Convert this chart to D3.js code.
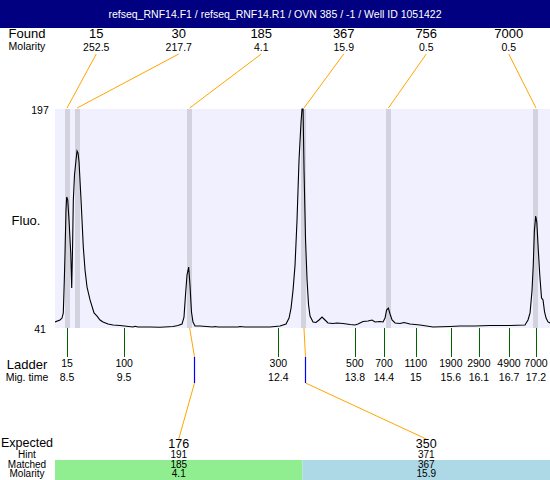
<!DOCTYPE html>
<html><head><meta charset="utf-8">
<script src="https://cdn.jsdelivr.net/npm/d3@7/dist/d3.min.js"></script>
<style>body{margin:0;background:#fff}svg{display:block;font-family:"Liberation Sans",Arial,sans-serif}</style>
</head><body><div id="chart"></div>
<script>
const title = "refseq_RNF14.F1 / refseq_RNF14.R1 / OVN 385 / -1 / Well ID 1051422";
const ladderSizes = [15, 100, 300, 500, 700, 1100, 1900, 2900, 4900, 7000];
const ladderTimes = [8.50, 9.56, 12.42, 13.84, 14.38, 14.97, 15.62, 16.14, 16.70, 17.20];
const migLabels = ["8.5", "9.5", "12.4", "13.8", "14.4", "15", "15.6", "16.1", "16.7", "17.2"];
const foundSizes = [15, 30, 185, 367, 756, 7000];
const foundMolarity = ["252.5", "217.7", "4.1", "15.9", "0.5", "0.5"];
const expectedSizes = [176, 350];
const hintSizes = [191, 371];
const matchedSizes = [185, 367];
const matchedMolarity = ["4.1", "15.9"];
const matchColors = ["#90ee90", "#add8e6"];
const yTicks = [41, 197];
const timeDomain = [8.277, 17.46];
const traceTimes = [8.277,8.37,8.407,8.431,8.45,8.463,8.481,8.494,8.513,8.537,8.569,8.587,8.602,8.617,8.639,8.667,8.686,8.705,8.723,8.76,8.802,8.834,8.871,8.927,9.001,9.057,9.112,9.168,9.261,9.353,9.483,9.724,9.761,9.817,10.04,10.225,10.466,10.559,10.633,10.67,10.698,10.726,10.757,10.781,10.809,10.837,10.874,10.967,11.208,11.245,11.301,11.672,11.709,11.802,12.266,12.452,12.563,12.619,12.656,12.693,12.73,12.767,12.804,12.841,12.86,12.879,12.897,12.925,12.953,12.981,13.008,13.064,13.119,13.175,13.231,13.286,13.342,13.435,13.509,13.62,13.75,13.843,13.898,13.991,14.084,14.158,14.214,14.307,14.363,14.4,14.428,14.461,14.493,14.53,14.586,14.678,14.752,14.864,15.049,15.29,15.605,15.79,16.069,16.347,16.718,16.996,17.052,17.09,17.127,17.15,17.17,17.195,17.215,17.243,17.27,17.303,17.331,17.359,17.387,17.424,17.46];
const traceFluo = [45.3,46.7,48.1,51.7,75.2,94.4,125,134.3,132.2,117.9,94.4,69.5,96.6,132.2,150,160.7,167.1,165.6,159.2,132.2,98.7,82.3,70.2,61,51.7,49.5,46.7,45.3,43.8,43.1,42.8,41.7,42.2,41.7,41.7,41.5,42.1,42.8,43.8,48.8,64.5,78.7,84.4,71.6,52.4,45.3,42.4,42.4,41.7,42.1,41.7,41.7,42.1,41.7,41.7,42.4,43.8,48.1,55.2,68,85.8,117.9,160.7,187.7,197,197,153.6,103.7,75.2,57.4,49.5,45.3,44.9,46.7,48.8,46.7,44.6,44.2,44.6,44.2,43.5,43.1,43.8,45.6,46,46.7,45.3,45.6,45.3,48.1,53.8,55.2,51,46.7,44.6,44.2,44.9,43.8,43.1,41.7,42.1,42.4,42.4,42.8,42.8,43.1,46.7,51.7,68,86,110,120.8,116.5,96.6,78.7,62.4,61,52.4,48.1,45.3,44.6];

const W = 550, H = 480;
const plot = {left: 55, right: 550, top: 109, bottom: 328};
const svg = d3.select("#chart").append("svg").attr("width", W).attr("height", H);

const x = d3.scaleLinear().domain(timeDomain).range([plot.left, plot.right]);
const y = d3.scaleLinear().domain([yTicks[0], yTicks[1]]).range([plot.bottom, plot.top]);
const sizeToTime = d3.scaleLinear().domain(ladderSizes).range(ladderTimes);
const foundPart = d3.scaleBand().domain(d3.range(foundSizes.length)).range([plot.left, plot.right]);
const expPart = d3.scaleBand().domain(d3.range(expectedSizes.length)).range([plot.left, plot.right]);
const fx = i => foundPart(i) + foundPart.bandwidth() / 2;
const ex = i => expPart(i) + expPart.bandwidth() / 2;
const px = v => Math.round(v) + 0.5;

// title bar
svg.append("rect").attr("x", 0).attr("y", 0).attr("width", W).attr("height", 28).attr("fill", "#000080");
svg.append("text").attr("x", W / 2).attr("y", 18).attr("text-anchor", "middle").attr("fill", "#fff")
  .attr("font-size", 10.5).text(title);

// plot background
svg.append("rect").attr("x", plot.left).attr("y", plot.top).attr("width", plot.right - plot.left)
  .attr("height", plot.bottom - plot.top).attr("fill", "#f0f0ff");

// peak bands
svg.append("g").selectAll("rect").data(foundSizes).join("rect")
  .attr("x", d => Math.round(x(sizeToTime(d)) - 2.5)).attr("width", 5)
  .attr("y", plot.top).attr("height", plot.bottom - plot.top).attr("fill", "#d3d3e0");

// trace
svg.append("clipPath").attr("id", "clip").append("rect").attr("x", plot.left).attr("y", plot.top - 1)
  .attr("width", plot.right - plot.left).attr("height", plot.bottom - plot.top + 1);
const line = d3.line().x(d => x(d[0])).y(d => y(d[1]));
svg.append("path").attr("d", line(d3.zip(traceTimes, traceFluo))).attr("fill", "none")
  .attr("stroke", "#000").attr("stroke-width", 1.1).attr("clip-path", "url(#clip)");

// y labels
svg.selectAll(".yl").data(yTicks).join("text").attr("class", "yl")
  .attr("x", 40).attr("y", d => y(d) + 4.5).attr("text-anchor", "middle").attr("font-size", 10.5).text(d => d);
svg.append("text").attr("x", 26).attr("y", 225).attr("text-anchor", "middle").attr("font-size", 13).text("Fluo.");

// Found row
svg.append("text").attr("x", 27).attr("y", 38).attr("text-anchor", "middle").attr("font-size", 13).text("Found");
svg.append("text").attr("x", 27).attr("y", 49.5).attr("text-anchor", "middle").attr("font-size", 10.5).text("Molarity");
foundSizes.forEach((s, i) => {
  svg.append("text").attr("x", fx(i)).attr("y", 38).attr("text-anchor", "middle").attr("font-size", 13).text(s);
  svg.append("text").attr("x", fx(i)).attr("y", 51).attr("text-anchor", "middle").attr("font-size", 10.5).text(foundMolarity[i]);
  svg.append("line").attr("x1", fx(i)).attr("y1", 54).attr("x2", x(sizeToTime(s))).attr("y2", plot.top - 1)
    .attr("stroke", "#ffa500").attr("stroke-width", 1);
});

// Ladder
svg.append("text").attr("x", 27).attr("y", 369).attr("text-anchor", "middle").attr("font-size", 13).text("Ladder");
svg.append("text").attr("x", 27).attr("y", 381).attr("text-anchor", "middle").attr("font-size", 10.5).text("Mig. time");
ladderSizes.forEach((s, i) => {
  const lx = x(ladderTimes[i]);
  svg.append("line").attr("x1", px(lx)).attr("x2", px(lx)).attr("y1", plot.bottom).attr("y2", 357)
    .attr("stroke", "#006400").attr("stroke-width", 1).attr("shape-rendering", "crispEdges");
  svg.append("text").attr("x", lx).attr("y", 367).attr("text-anchor", "middle").attr("font-size", 10.5).text(s);
  svg.append("text").attr("x", lx).attr("y", 381).attr("text-anchor", "middle").attr("font-size", 10.5).text(migLabels[i]);
});

// matched connectors
const conn = svg.append("g");
matchedSizes.forEach((s, i) => {
  const pkx = x(sizeToTime(s));
  const hx = px(x(sizeToTime(hintSizes[i])));
  conn.append("line").attr("x1", pkx).attr("y1", plot.bottom).attr("x2", hx).attr("y2", 357)
    .attr("stroke", "#ffa500");
  conn.append("line").attr("x1", hx).attr("y1", 383).attr("x2", ex(i)).attr("y2", 439).attr("stroke", "#ffa500");
});
conn.selectAll(".hint").data(hintSizes).join("line").attr("class", "hint")
  .attr("x1", d => px(x(sizeToTime(d)))).attr("x2", d => px(x(sizeToTime(d))))
  .attr("y1", 357).attr("y2", 383).attr("stroke", "#0000ff").attr("stroke-width", 1.2);

// bottom table
svg.selectAll(".mb").data(matchedSizes).join("rect").attr("class", "mb")
  .attr("x", (d, i) => expPart(i)).attr("width", expPart.bandwidth()).attr("y", 460).attr("height", 20)
  .attr("fill", (d, i) => matchColors[i]);
svg.append("text").attr("x", 27).attr("y", 447).attr("text-anchor", "middle").attr("font-size", 12.5).text("Expected");
svg.append("text").attr("x", 27).attr("y", 458).attr("text-anchor", "middle").attr("font-size", 10).text("Hint");
svg.append("text").attr("x", 27).attr("y", 467.5).attr("text-anchor", "middle").attr("font-size", 10).text("Matched");
svg.append("text").attr("x", 27).attr("y", 476.5).attr("text-anchor", "middle").attr("font-size", 10).text("Molarity");
expectedSizes.forEach((s, i) => {
  svg.append("text").attr("x", ex(i)).attr("y", 447.5).attr("text-anchor", "middle").attr("font-size", 12.5).text(s);
  svg.append("text").attr("x", ex(i)).attr("y", 458).attr("text-anchor", "middle").attr("font-size", 10).text(hintSizes[i]);
  svg.append("text").attr("x", ex(i)).attr("y", 467.5).attr("text-anchor", "middle").attr("font-size", 10).text(matchedSizes[i]);
  svg.append("text").attr("x", ex(i)).attr("y", 477).attr("text-anchor", "middle").attr("font-size", 10).text(matchedMolarity[i]);
});
</script></body></html>
